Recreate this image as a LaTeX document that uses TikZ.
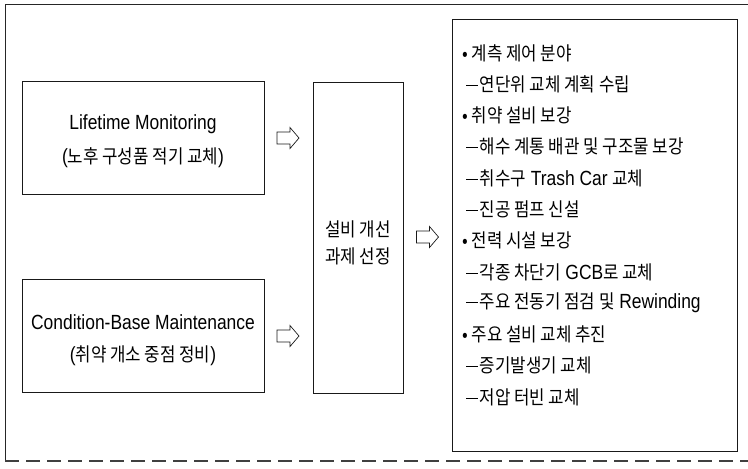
\documentclass[tikz,border=0pt]{standalone}
\usepackage{fontspec}
\setmainfont{Liberation Sans}[FakeStretch=0.85]
\newfontfamily\krfont{Noto Sans CJK KR}[FakeStretch=0.88,Scale=0.93]
\newcommand\K[1]{{\krfont #1}}
\newcommand\dsh{\rule[5.5pt]{12pt}{1pt}\hspace{1.5pt}}
\usetikzlibrary{calc}
\begin{document}
\begin{tikzpicture}[x=1pt,y=-1pt,
  box/.style={draw=black!90, line width=0.8pt, inner sep=0pt},
  txt/.style={inner sep=0pt, font=\fontsize{20.5}{24}\selectfont},
  item/.style={inner sep=0pt, anchor=west, font=\fontsize{20.5}{24}\selectfont},
  hollow/.style={draw=black!90, line width=0.7pt, fill=white, line join=miter}]
\useasboundingbox (0,0) rectangle (748,469);
% outer frame
\draw[line width=0.8pt, black!85] (5,461) -- (5,4) -- (748,4);
\draw[line width=1.5pt, black!75, dash pattern=on 14pt off 7pt] (5,461) -- (748,461);
% boxes
\node[box, minimum width=242pt, minimum height=113pt] (lm) at (143,137.5) {};
\node[box, minimum width=242pt, minimum height=113pt] (cbm) at (143,335.5) {};
\node[box, minimum width=90pt, minimum height=311pt] (mid) at (358,237.5) {};
\node[box, minimum width=285pt, minimum height=432pt] (res) at (594.5,235) {};
% box texts
\node[txt] (lm1) at (143,124) {Lifetime Monitoring};
\node[txt] (lm2) at (143,158) {(\K{노후 구성품 적기 교체})};
\node[txt] (cb1) at (143,322) {Condition-Base Maintenance};
\node[txt] (cb2) at (143,356) {(\K{취약 개소 중점 정비})};
\node[txt] (m1) at (358,229) {\K{설비 개선}};
\node[txt] (m2) at (358,256) {\K{과제 선정}};
% hollow block arrows
\coordinate (a1) at (288,138);
\coordinate (a2) at (288,336);
\coordinate (a3) at (427.5,237);
\foreach \c in {a1,a2,a3}{
  \draw[hollow, shift={(\c)}] (-11,-6) -- (2,-6) -- (2,-10.5) -- (11,0) -- (2,10.5) -- (2,6) -- (-11,6) -- cycle;
}
% list
\def\sp{31.27}
\node[item] (r1) at (462,53) {\K{• 계측 제어 분야}};
\node[item] (r2) at (466,53+1*\sp) {\dsh\K{연단위 교체 계획 수립}};
\node[item] (r3) at (462,53+2*\sp) {\K{• 취약 설비 보강}};
\node[item] (r4) at (466,53+3*\sp) {\dsh\K{해수 계통 배관 및 구조물 보강}};
\node[item] (r5) at (466,53+4*\sp) {\dsh\K{취수구} Trash Car \K{교체}};
\node[item] (r6) at (466,53+5*\sp) {\dsh\K{진공 펌프 신설}};
\node[item] (r7) at (462,53+6*\sp) {\K{• 전력 시설 보강}};
\node[item] (r8) at (466,53+7*\sp) {\dsh\K{각종 차단기} GCB\K{로 교체}};
\node[item] (r9) at (466,53+8*\sp) {\dsh\K{주요 전동기 점검 및} Rewinding};
\node[item] (r10) at (462,53+9*\sp) {\K{• 주요 설비 교체 추진}};
\node[item] (r11) at (466,53+10*\sp) {\dsh\K{증기발생기 교체}};
\node[item] (r12) at (466,53+11*\sp) {\dsh\K{저압 터빈 교체}};
\end{tikzpicture}
\end{document}
